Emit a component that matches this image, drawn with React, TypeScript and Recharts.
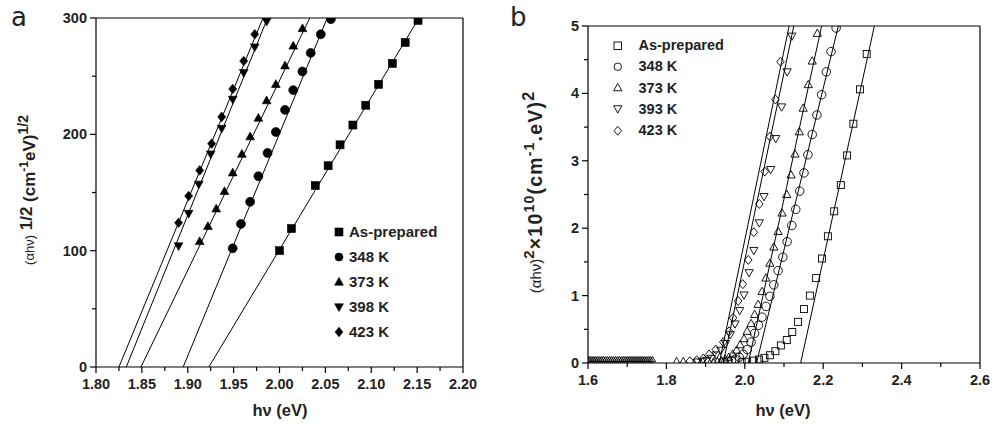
import { ScatterChart, Scatter, XAxis, YAxis, ReferenceLine } from "recharts";

// ---- panel a : (alpha h nu)^1/2 vs h nu ----
const aPrepX = [2.0, 2.013, 2.039, 2.053, 2.066, 2.08, 2.094, 2.108, 2.123, 2.137, 2.151];
const aPrepY = [100, 119, 156, 173, 191, 208, 225, 243, 261, 279, 298];
const a348X = [1.949, 1.958, 1.968, 1.977, 1.987, 1.996, 2.006, 2.015, 2.025, 2.034, 2.045, 2.056];
const a348Y = [102, 123, 142, 164, 184, 202, 221, 238, 254, 270, 286, 299];
const a373X = [1.913, 1.922, 1.931, 1.94, 1.949, 1.959, 1.968, 1.977, 1.986, 1.996, 2.006, 2.015, 2.025];
const a373Y = [108, 121, 136, 151, 167, 183, 198, 214, 229, 243, 259, 276, 291];
const a398X = [1.89, 1.901, 1.912, 1.925, 1.937, 1.949, 1.961, 1.973, 1.986];
const a398Y = [104, 132, 157, 183, 205, 230, 253, 275, 297];
const a423X = [1.89, 1.901, 1.913, 1.926, 1.937, 1.949, 1.961, 1.973];
const a423Y = [124, 147, 169, 192, 215, 239, 263, 286];

// fitted lines: x at y = 0 and y = 300
const aFitY = [0, 300];
const aFitPrep = [1.923, 2.152];
const aFit348 = [1.895, 2.052];
const aFit373 = [1.849, 2.033];
const aFit398 = [1.833, 1.987];
const aFit423 = [1.825, 1.982];

const aXMajor = [1.8, 1.85, 1.9, 1.95, 2.0, 2.05, 2.1, 2.15, 2.2];
const aXMinor = [1.825, 1.875, 1.925, 1.975, 2.025, 2.075, 2.125, 2.175];
const aYMajor = [0, 100, 200, 300];
const aYMinor = [50, 150, 250];
const aLegend = ["As-prepared", "348 K", "373 K", "398 K", "423 K"];

// ---- panel b : (alpha h nu)^2 x 10^10 vs h nu ----
const bPrepX = [1.992, 2.006, 2.021, 2.036, 2.05, 2.064, 2.078, 2.092, 2.107, 2.121, 2.136, 2.151, 2.166, 2.182, 2.197, 2.212, 2.228, 2.245, 2.261, 2.277, 2.294, 2.311];
const bPrepY = [0.01, 0.02, 0.035, 0.052, 0.077, 0.115, 0.175, 0.26, 0.34, 0.46, 0.61, 0.8, 1.0, 1.26, 1.55, 1.88, 2.25, 2.64, 3.08, 3.55, 4.06, 4.585];
const b348X = [1.946, 1.956, 1.966, 1.976, 1.986, 1.996, 2.006, 2.016, 2.025, 2.035, 2.044, 2.054, 2.064, 2.074, 2.085, 2.097, 2.108, 2.12, 2.13, 2.14, 2.151, 2.161, 2.172, 2.184, 2.196, 2.208, 2.22, 2.233];
const b348Y = [0.012, 0.02, 0.035, 0.055, 0.085, 0.13, 0.2, 0.31, 0.44, 0.56, 0.68, 0.84, 0.99, 1.16, 1.37, 1.57, 1.8, 2.04, 2.28, 2.55, 2.82, 3.09, 3.39, 3.68, 3.98, 4.32, 4.62, 4.97];
const b373X = [1.826, 1.843, 1.92, 1.93, 1.94, 1.95, 1.959, 1.969, 1.979, 1.988, 1.998, 2.006, 2.016, 2.025, 2.034, 2.044, 2.054, 2.064, 2.074, 2.085, 2.095, 2.107, 2.118, 2.128, 2.139, 2.149, 2.162, 2.172, 2.185];
const b373Y = [0.02, 0.02, 0.012, 0.02, 0.035, 0.055, 0.085, 0.13, 0.19, 0.27, 0.36, 0.47, 0.585, 0.72, 0.87, 1.06, 1.26, 1.48, 1.72, 1.95, 2.225, 2.5, 2.79, 3.1, 3.43, 3.78, 4.13, 4.48, 4.89];
const bFlatX = [1.6, 1.605, 1.61, 1.615, 1.62, 1.625, 1.63, 1.635, 1.64, 1.645, 1.65, 1.655, 1.66, 1.665, 1.67, 1.675, 1.68, 1.685, 1.69, 1.695, 1.7, 1.705, 1.71, 1.715, 1.72, 1.725, 1.73, 1.735, 1.74, 1.745, 1.75, 1.755, 1.76, 1.765];
const bFlatY = [0.05, 0.05, 0.05, 0.05, 0.05, 0.05, 0.05, 0.05, 0.05, 0.05, 0.05, 0.05, 0.05, 0.05, 0.05, 0.05, 0.05, 0.05, 0.05, 0.05, 0.05, 0.05, 0.05, 0.05, 0.05, 0.05, 0.05, 0.05, 0.05, 0.05, 0.05, 0.05, 0.05, 0.05];
const b393X = [1.88, 1.892, 1.903, 1.915, 1.927, 1.939, 1.951, 1.963, 1.975, 1.987, 1.998, 2.011, 2.023, 2.037, 2.049, 2.066, 2.079, 2.094, 2.108, 2.12];
const b393Y = [0.015, 0.025, 0.04, 0.07, 0.12, 0.19, 0.29, 0.42, 0.58, 0.78, 1.01, 1.34, 1.67, 2.08, 2.47, 2.87, 3.33, 3.8, 4.32, 4.85];
const b423X = [1.86, 1.877, 1.894, 1.909, 1.926, 1.945, 1.96, 1.97, 1.983, 1.995, 2.009, 2.023, 2.037, 2.051, 2.064, 2.078, 2.091];
const b423Y = [0.027, 0.04, 0.067, 0.126, 0.2, 0.31, 0.47, 0.67, 0.92, 1.17, 1.53, 1.94, 2.36, 2.84, 3.36, 3.91, 4.47];

const bFitY = [0, 5];
const bFitPrep = [2.1425, 2.3305];
const bFit348 = [2.03, 2.2386];
const bFit373 = [2.009, 2.196];
const bFit393 = [1.945, 2.125];
const bFit423 = [1.935, 2.113];

const bXMajor = [1.6, 1.8, 2.0, 2.2, 2.4, 2.6];
const bXMinor = [1.7, 1.9, 2.1, 2.3, 2.5];
const bYMajor = [0, 1, 2, 3, 4, 5];
const bYMinor = [0.5, 1.5, 2.5, 3.5, 4.5];
const bLegend = ["As-prepared", "348 K", "373 K", "393 K", "423 K"];

const kinds = ["square", "circle", "up", "down", "diamond"];
const FONT = "'Liberation Sans', Arial, Helvetica, sans-serif";

const pts = (xs: number[], ys: number[]) => xs.map((x, i) => ({ x, y: ys[i] }));

function Mark({ cx, cy, kind, size, open }: any) {
  const r = size / 2;
  const p = { fill: open ? "none" : "#000", stroke: "#000", strokeWidth: open ? 0.9 : 0.6 };
  if (kind === "square") return <rect x={cx - r} y={cy - r} width={size} height={size} {...p} />;
  if (kind === "circle") return <circle cx={cx} cy={cy} r={r} {...p} />;
  if (kind === "up")
    return <polygon points={`${cx},${cy - r * 1.15} ${cx + r * 1.1},${cy + r * 0.8} ${cx - r * 1.1},${cy + r * 0.8}`} {...p} />;
  if (kind === "down")
    return <polygon points={`${cx},${cy + r * 1.15} ${cx + r * 1.1},${cy - r * 0.8} ${cx - r * 1.1},${cy - r * 0.8}`} {...p} />;
  return <polygon points={`${cx},${cy - r * 1.2} ${cx + r},${cy} ${cx},${cy + r * 1.2} ${cx - r},${cy}`} {...p} />;
}

function XTick({ x, y, payload, majors, digits }: any) {
  const major = majors.includes(payload.value);
  return (
    <g>
      <line x1={x} x2={x} y1={y} y2={y + (major ? 6 : 4)} stroke="#000" strokeWidth={1.2} />
      {major && (
        <text x={x} y={y + 22} textAnchor="middle" fontSize={14.5} fontWeight="bold" fontFamily={FONT} fill="#222">
          {payload.value.toFixed(digits)}
        </text>
      )}
    </g>
  );
}

function YTick({ x, y, payload, majors }: any) {
  const major = majors.includes(payload.value);
  return (
    <g>
      <line x1={x} x2={x - (major ? 6 : 4)} y1={y} y2={y} stroke="#000" strokeWidth={1.2} />
      {major && (
        <text x={x - 9} y={y + 5} textAnchor="end" fontSize={14.5} fontWeight="bold" fontFamily={FONT} fill="#222">
          {payload.value}
        </text>
      )}
    </g>
  );
}

function fitLine(key: string, xs: number[], ys: number[]) {
  return (
    <Scatter
      key={key}
      data={pts(xs, ys)}
      line={{ stroke: "#000", strokeWidth: 1 }}
      shape={() => <g />}
      isAnimationActive={false}
    />
  );
}

function markers(key: string, xs: number[], ys: number[], kind: string, size: number, open: boolean) {
  return (
    <Scatter
      key={key}
      data={pts(xs, ys)}
      shape={(p: any) => <Mark cx={p.cx} cy={p.cy} kind={kind} size={size} open={open} />}
      isAnimationActive={false}
    />
  );
}

function Legend({ names, left, top, gap, size, open, font, textGap }: any) {
  return (
    <div style={{ position: "absolute", left, top }}>
      {names.map((n: string, i: number) => (
        <div key={n} style={{ position: "absolute", left: 0, top: i * gap, display: "flex", alignItems: "center", whiteSpace: "nowrap" }}>
          <svg width={size + 4} height={size + 4} style={{ display: "block" }}>
            <Mark cx={(size + 4) / 2} cy={(size + 4) / 2} kind={kinds[i]} size={size} open={open} />
          </svg>
          <span style={{ marginLeft: textGap, fontSize: font, fontWeight: "bold", fontFamily: FONT, color: "#222", lineHeight: 1 }}>
            {n}
          </span>
        </div>
      ))}
    </div>
  );
}

const abs = (left: number, top: number): any => ({ position: "absolute", left, top });
const vlabel = (cx: number, cy: number): any => ({
  position: "absolute",
  left: cx,
  top: cy,
  transform: "translate(-50%, -50%) rotate(-90deg)",
  whiteSpace: "nowrap",
  fontFamily: FONT,
  color: "#222",
});

export default function App() {
  return (
    <div style={{ position: "absolute", left: 0, top: 0, width: 994, height: 430, background: "#fff", fontFamily: FONT }}>
      <div style={abs(0, 0)}>
        <ScatterChart width={480} height={430} margin={{ top: 18, right: 17, bottom: 33, left: 46 }}>
          <XAxis
            type="number"
            dataKey="x"
            domain={[1.8, 2.2]}
            allowDataOverflow
            ticks={[...aXMajor, ...aXMinor]}
            interval={0}
            height={30}
            tickSize={0}
            tickMargin={0}
            tickLine={false}
            axisLine={{ stroke: "#000", strokeWidth: 1.2 }}
            tick={(p: any) => <XTick {...p} majors={aXMajor} digits={2} />}
          />
          <YAxis
            type="number"
            dataKey="y"
            domain={[0, 300]}
            allowDataOverflow
            ticks={[...aYMajor, ...aYMinor]}
            interval={0}
            width={50}
            tickSize={0}
            tickMargin={0}
            tickLine={false}
            axisLine={{ stroke: "#000", strokeWidth: 1.2 }}
            tick={(p: any) => <YTick {...p} majors={aYMajor} />}
          />
          <ReferenceLine y={300} stroke="#000" strokeWidth={1.2} />
          <ReferenceLine x={2.2} stroke="#000" strokeWidth={1.2} />
          {fitLine("fp", aFitPrep, aFitY)}
          {fitLine("f348", aFit348, aFitY)}
          {fitLine("f373", aFit373, aFitY)}
          {fitLine("f398", aFit398, aFitY)}
          {fitLine("f423", aFit423, aFitY)}
          {markers("mp", aPrepX, aPrepY, "square", 8, false)}
          {markers("m348", a348X, a348Y, "circle", 9, false)}
          {markers("m373", a373X, a373Y, "up", 8, false)}
          {markers("m398", a398X, a398Y, "down", 8, false)}
          {markers("m423", a423X, a423Y, "diamond", 8, false)}
        </ScatterChart>
      </div>

      <div style={abs(500, 0)}>
        <ScatterChart width={494} height={430} margin={{ top: 26, right: 14, bottom: 37, left: 38 }}>
          <XAxis
            type="number"
            dataKey="x"
            domain={[1.6, 2.6]}
            allowDataOverflow
            ticks={[...bXMajor, ...bXMinor]}
            interval={0}
            height={30}
            tickSize={0}
            tickMargin={0}
            tickLine={false}
            axisLine={{ stroke: "#000", strokeWidth: 1.2 }}
            tick={(p: any) => <XTick {...p} majors={bXMajor} digits={1} />}
          />
          <YAxis
            type="number"
            dataKey="y"
            domain={[0, 5]}
            allowDataOverflow
            ticks={[...bYMajor, ...bYMinor]}
            interval={0}
            width={50}
            tickSize={0}
            tickMargin={0}
            tickLine={false}
            axisLine={{ stroke: "#000", strokeWidth: 1.2 }}
            tick={(p: any) => <YTick {...p} majors={bYMajor} />}
          />
          <ReferenceLine y={5} stroke="#000" strokeWidth={1.2} />
          <ReferenceLine x={2.6} stroke="#000" strokeWidth={1.2} />
          {fitLine("gp", bFitPrep, bFitY)}
          {fitLine("g348", bFit348, bFitY)}
          {fitLine("g373", bFit373, bFitY)}
          {fitLine("g393", bFit393, bFitY)}
          {fitLine("g423", bFit423, bFitY)}
          {markers("nflat", bFlatX, bFlatY, "up", 5.5, true)}
          {markers("np", bPrepX, bPrepY, "square", 7, true)}
          {markers("n348", b348X, b348Y, "circle", 8.5, true)}
          {markers("n373", b373X, b373Y, "up", 7.5, true)}
          {markers("n393", b393X, b393Y, "down", 7.5, true)}
          {markers("n423", b423X, b423Y, "diamond", 7.5, true)}
        </ScatterChart>
      </div>

      <div style={{ ...abs(11, 3), fontSize: 26, lineHeight: 1.1, fontFamily: "'DejaVu Sans', sans-serif", color: "#222" }}>a</div>
      <div style={{ ...abs(510, 3), fontSize: 26, lineHeight: 1.1, fontFamily: "'DejaVu Sans', sans-serif", color: "#222" }}>b</div>

      <Legend names={aLegend} left={333} top={224} gap={25} size={8} open={false} font={15} textGap={4} />
      <Legend names={bLegend} left={612} top={38} gap={21.3} size={7.5} open={true} font={14.5} textGap={15} />

      <div style={{ ...abs(280, 410), transform: "translate(-50%, -50%)", fontSize: 16.5, fontWeight: "bold", color: "#222", whiteSpace: "nowrap" }}>
        hν (eV)
      </div>
      <div style={{ ...abs(783, 410), transform: "translate(-50%, -50%)", fontSize: 16.5, fontWeight: "bold", color: "#222", whiteSpace: "nowrap" }}>
        hν (eV)
      </div>

      <div style={vlabel(27, 190)}>
        <span style={{ fontSize: 13 }}>(αhν)</span>
        <span style={{ fontSize: 17, fontWeight: "bold", position: "relative", top: -3 }}> 1/2</span>
        <span style={{ fontSize: 17, fontWeight: "bold" }}>
          {"  "}(cm<sup style={{ fontSize: 12 }}>-1</sup>eV)<sup style={{ fontSize: 14 }}>1/2</sup>
        </span>
      </div>
      <div style={vlabel(533, 192)}>
        <span style={{ fontSize: 15 }}>(αhν)</span>
        <span style={{ fontSize: 19.5, fontWeight: "bold", letterSpacing: 1.2 }}>
          <sup style={{ fontSize: 15 }}>2</sup>×10<sup style={{ fontSize: 14 }}>10</sup>(cm<sup style={{ fontSize: 14 }}>-1</sup>.eV)
          <sup style={{ fontSize: 16 }}>2</sup>
        </span>
      </div>
    </div>
  );
}
